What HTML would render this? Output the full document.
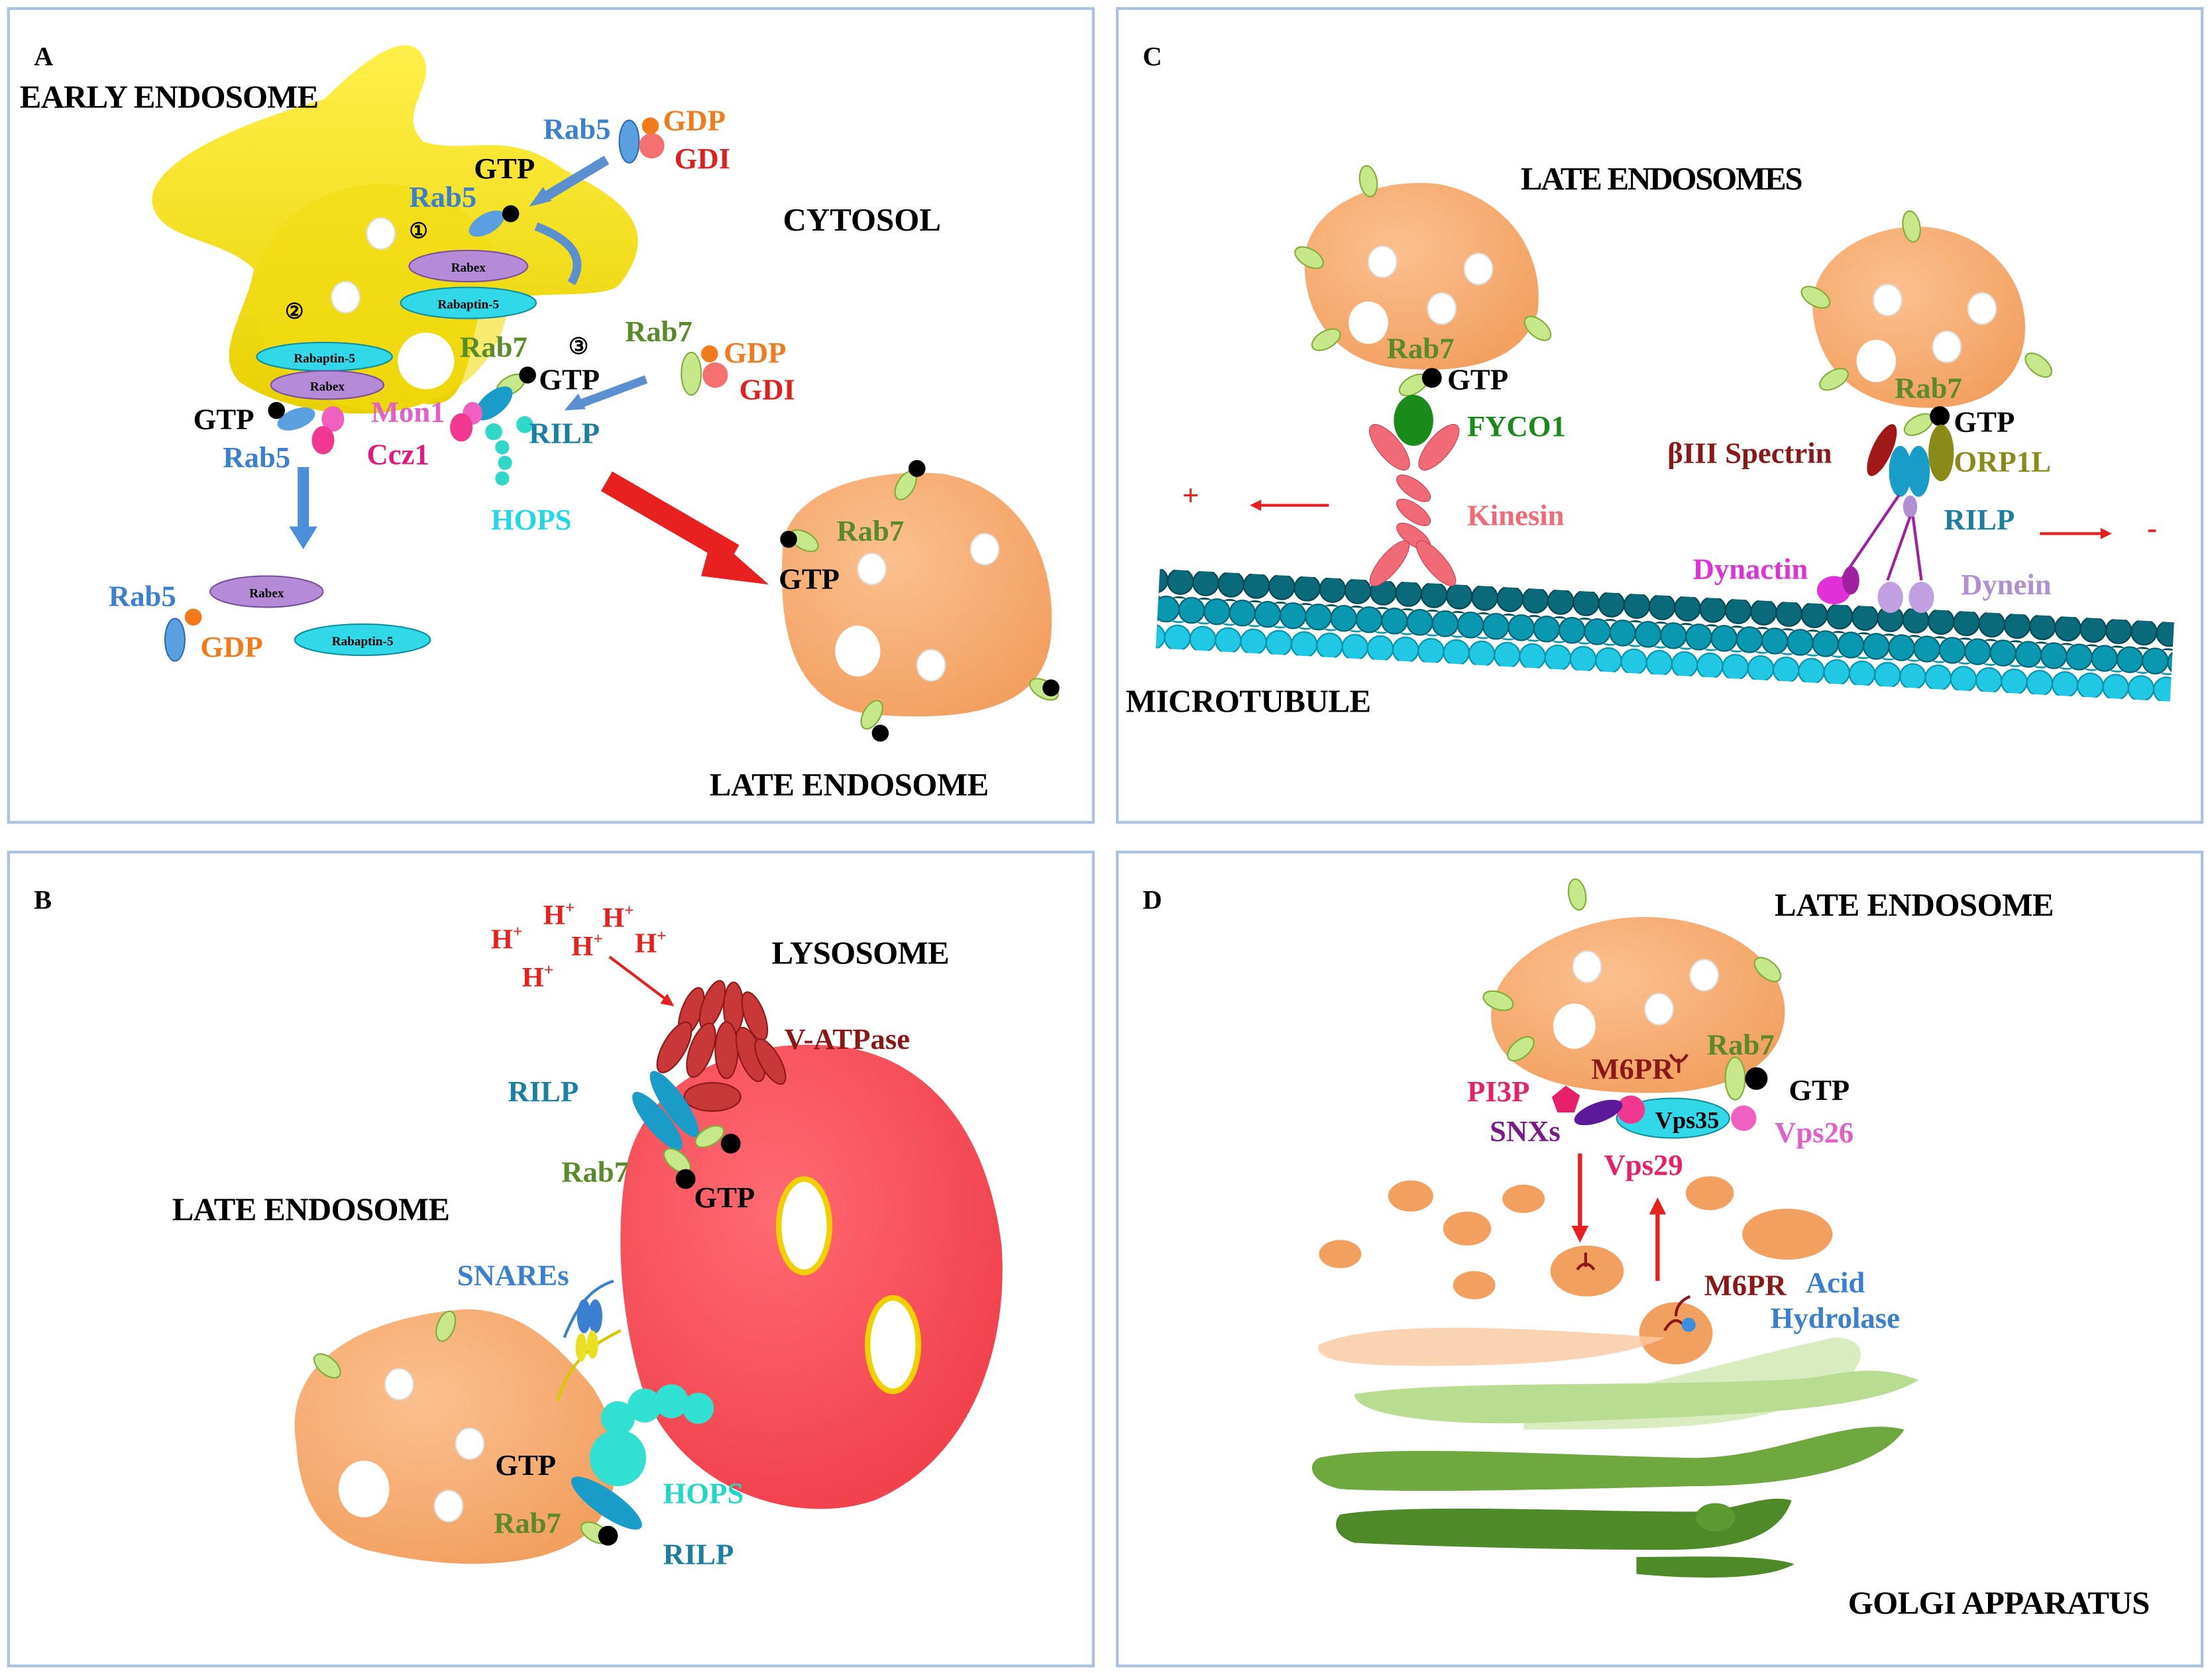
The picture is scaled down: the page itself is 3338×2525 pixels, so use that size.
<!DOCTYPE html>
<html><head><meta charset="utf-8"><style>
html,body{margin:0;padding:0;background:#fff}
svg{display:block}
text{font-family:"Liberation Serif",serif;font-weight:bold}
</style></head><body>
<svg width="3338" height="2525" viewBox="0 0 1568 1182" preserveAspectRatio="none" font-size="21" xmlns="http://www.w3.org/2000/svg">
<defs>
<radialGradient id="org" cx="40%" cy="35%" r="70%"><stop offset="0" stop-color="#fbc08f"/><stop offset="1" stop-color="#f2a060"/></radialGradient>
<radialGradient id="red" cx="40%" cy="35%" r="70%"><stop offset="0" stop-color="#ff6a72"/><stop offset="1" stop-color="#f0404c"/></radialGradient>
<linearGradient id="yel" x1="0" y1="0" x2="0" y2="1"><stop offset="0" stop-color="#fff04a"/><stop offset="1" stop-color="#e8d000"/></linearGradient>
<pattern id="b1" patternUnits="userSpaceOnUse" width="18" height="20"><circle cx="9" cy="10" r="9" fill="#0a6a7a" stroke="#054550"/></pattern>
<pattern id="b2" patternUnits="userSpaceOnUse" width="18" height="20" x="9"><circle cx="9" cy="10" r="9" fill="#0a98b0" stroke="#066070"/></pattern>
<pattern id="b3" patternUnits="userSpaceOnUse" width="18" height="20"><circle cx="9" cy="10" r="9" fill="#20c8e4" stroke="#0890a8"/></pattern>
<g id="gv"><ellipse rx="11" ry="6" fill="#c6e88a" stroke="#7fae3a" stroke-width="1"/></g>
<g id="wv"><ellipse rx="10" ry="11" fill="#fff" stroke="#ddd"/></g>
</defs>
<rect width="1568" height="1182" fill="#fff"/>
<g fill="none" stroke="#a9c2de" stroke-width="2">
<rect x="6" y="6" width="769" height="575"/><rect x="792" y="6" width="769" height="575"/>
<rect x="6" y="602" width="769" height="575"/><rect x="792" y="602" width="769" height="575"/>
</g>

<!-- PANEL A -->
<path d="M110,150 C95,120 160,90 230,70 C260,40 290,20 300,40 C310,60 280,80 300,100 C330,110 360,90 400,120 C440,140 470,160 440,200 C430,215 360,200 340,220 C330,260 330,290 300,285 C260,300 200,290 170,270 C150,250 175,220 180,190 C160,170 120,170 110,150 Z" fill="url(#yel)"/>
<ellipse cx="270" cy="210" rx="90" ry="80" fill="#f2dc10" opacity="0.6"/>
<text x="24" y="46" font-size="19">A</text>
<text x="14" y="76" font-size="23" textLength="212">EARLY ENDOSOME</text>
<text x="555" y="163" font-size="23">CYTOSOL</text>
<use href="#wv" x="270" y="165"/><use href="#wv" x="245" y="210"/>
<ellipse cx="302" cy="255" rx="20" ry="20" fill="#fff"/>
<text x="290" y="168" font-size="15">①</text><text x="202" y="225" font-size="15">②</text><text x="403" y="250" font-size="16">③</text>
<ellipse cx="332" cy="188" rx="42" ry="11" fill="#b58ad6" stroke="#7a50a0"/><text x="332" y="192" font-size="9" text-anchor="middle">Rabex</text>
<ellipse cx="332" cy="214" rx="48" ry="11" fill="#30d8e8" stroke="#1090a0"/><text x="332" y="218" font-size="9" text-anchor="middle">Rabaptin-5</text>
<ellipse cx="230" cy="252" rx="48" ry="10" fill="#30d8e8" stroke="#1090a0"/><text x="230" y="256" font-size="9" text-anchor="middle">Rabaptin-5</text>
<ellipse cx="232" cy="272" rx="40" ry="10" fill="#b58ad6" stroke="#7a50a0"/><text x="232" y="276" font-size="9" text-anchor="middle">Rabex</text>
<text x="385" y="98" fill="#3a7fd0">Rab5</text>
<ellipse cx="446" cy="100" rx="7" ry="15" fill="#5aa0e0" stroke="#2d6cb0"/>
<circle cx="462" cy="103" r="9" fill="#f57070"/><circle cx="461" cy="89" r="6" fill="#f27a1a"/>
<text x="470" y="92" fill="#f27a1a">GDP</text><text x="478" y="119" fill="#e02020">GDI</text>
<text x="336" y="126">GTP</text>
<text x="290" y="146" fill="#3a7fd0">Rab5</text>
<ellipse cx="345" cy="158" rx="14" ry="7" fill="#5aa0e0" transform="rotate(-30 345 158)"/><circle cx="362" cy="151" r="6" fill="#000"/>
<path d="M430,113 L385,140" stroke="#5a8fd0" stroke-width="7"/><path d="M375,146 l10,-14 l6,10z" fill="#5a8fd0"/>
<path d="M380,160 Q420,175 405,200" stroke="#5a8fd0" stroke-width="6" fill="none"/>
<text x="326" y="252" fill="#5a8a2a">Rab7</text>
<text x="443" y="241" fill="#5a8a2a">Rab7</text>
<ellipse cx="490" cy="264" rx="7" ry="15" fill="#c6e88a" stroke="#7fae3a"/>
<circle cx="507" cy="265" r="9" fill="#f57070"/><circle cx="503" cy="250" r="6" fill="#f27a1a"/>
<text x="513" y="256" fill="#f27a1a">GDP</text><text x="524" y="282" fill="#e02020">GDI</text>
<text x="382" y="275">GTP</text>
<use href="#gv" transform="translate(362 272) rotate(-30)"/><circle cx="374" cy="265" r="6" fill="#000"/>
<path d="M458,268 L412,285" stroke="#5a8fd0" stroke-width="6"/><path d="M400,290 l10,-12 l5,11z" fill="#5a8fd0"/>
<ellipse cx="350" cy="285" rx="16" ry="8" fill="#1a9cc8" transform="rotate(-40 350 285)"/>
<ellipse cx="335" cy="292" rx="7" ry="8" fill="#f060c0"/><ellipse cx="327" cy="302" rx="8" ry="10" fill="#f03890"/>
<g fill="#30d8c8"><circle cx="350" cy="305" r="6"/><circle cx="356" cy="316" r="5"/><circle cx="358" cy="327" r="5"/><circle cx="356" cy="338" r="5"/><circle cx="372" cy="300" r="6"/></g>
<text x="263" y="298" fill="#e060c8">Mon1</text>
<text x="375" y="313" fill="#1a7fa0">RILP</text>
<text x="260" y="328" fill="#e01880">Ccz1</text>
<text x="348" y="374" fill="#20d8e8">HOPS</text>
<text x="137" y="303">GTP</text>
<ellipse cx="210" cy="296" rx="14" ry="7" fill="#5aa0e0" transform="rotate(-20 210 296)"/><circle cx="196" cy="290" r="6" fill="#000"/>
<ellipse cx="236" cy="296" rx="8" ry="9" fill="#f060c0"/><ellipse cx="229" cy="311" rx="8" ry="10" fill="#f03890"/>
<text x="158" y="330" fill="#3a7fd0">Rab5</text>
<rect x="211" y="330" width="8" height="44" fill="#4a8fd8"/><path d="M205,372 h20 l-10,16z" fill="#4a8fd8"/>
<ellipse cx="189" cy="418" rx="40" ry="11" fill="#b58ad6" stroke="#7a50a0"/><text x="189" y="422" font-size="9" text-anchor="middle">Rabex</text>
<text x="77" y="428" fill="#3a7fd0">Rab5</text>
<ellipse cx="124" cy="452" rx="7" ry="15" fill="#5aa0e0" stroke="#2d6cb0"/><circle cx="137" cy="436" r="6" fill="#f27a1a"/>
<text x="142" y="464" fill="#f27a1a">GDP</text>
<ellipse cx="257" cy="452" rx="48" ry="11" fill="#30d8e8" stroke="#1090a0"/><text x="257" y="456" font-size="9" text-anchor="middle">Rabaptin-5</text>
<path d="M430,340 L520,392" stroke="#e82020" stroke-width="16"/><path d="M505,378 l40,35 l-48,-6z" fill="#e82020"/>
<path d="M555,385 C560,345 620,330 670,335 C720,345 750,390 745,450 C740,500 690,510 620,505 C570,500 550,460 555,385 Z" fill="url(#org)"/>
<use href="#wv" x="618" y="402"/><use href="#wv" x="698" y="388"/><ellipse cx="608" cy="460" rx="16" ry="18" fill="#fff"/><use href="#wv" x="660" y="470"/>
<use href="#gv" transform="translate(570 382) rotate(30)"/><circle cx="559" cy="381" r="6" fill="#000"/>
<use href="#gv" transform="translate(642 343) rotate(-60)"/><circle cx="650" cy="331" r="6" fill="#000"/>
<use href="#gv" transform="translate(740 487) rotate(30)"/><circle cx="745" cy="486" r="6" fill="#000"/>
<use href="#gv" transform="translate(618 505) rotate(-60)"/><circle cx="624" cy="518" r="6" fill="#000"/>
<text x="593" y="382" fill="#5a8a2a">Rab7</text><text x="552" y="416">GTP</text>
<text x="503" y="562" font-size="23" textLength="198">LATE ENDOSOME</text>

<!-- PANEL C -->
<text x="810" y="46" font-size="19">C</text>
<text x="1078" y="134" font-size="23" textLength="200">LATE ENDOSOMES</text>
<g transform="rotate(3 822 405)">
<rect x="822" y="402" width="720" height="20" fill="url(#b1)"/>
<rect x="822" y="420" width="720" height="20" fill="url(#b2)"/>
<rect x="822" y="438" width="720" height="20" fill="url(#b3)"/>
</g>
<path d="M925,180 C930,145 975,125 1020,130 C1070,140 1095,180 1090,220 C1080,255 1040,265 990,260 C945,255 922,220 925,180 Z" fill="url(#org)"/>
<use href="#wv" x="980" y="185"/><use href="#wv" x="1048" y="190"/><use href="#wv" x="1022" y="218"/><ellipse cx="970" cy="228" rx="14" ry="15" fill="#fff"/>
<use href="#gv" transform="translate(970 128) rotate(80)"/><use href="#gv" transform="translate(928 182) rotate(30)"/><use href="#gv" transform="translate(940 240) rotate(-30)"/><use href="#gv" transform="translate(1090 232) rotate(40)"/>
<text x="983" y="253" fill="#5a8a2a">Rab7</text>
<use href="#gv" transform="translate(1002 272) rotate(-30)"/><circle cx="1015" cy="267" r="7" fill="#000"/>
<text x="1026" y="275">GTP</text>
<ellipse cx="1002" cy="297" rx="14" ry="18" fill="#1a8a1a"/>
<text x="1040" y="308" fill="#1a8a1a">FYCO1</text>
<g fill="#f06a78" stroke="#c04050" stroke-width="0.5">
<ellipse cx="985" cy="316" rx="8" ry="20" transform="rotate(-40 985 316)"/><ellipse cx="1020" cy="316" rx="8" ry="20" transform="rotate(40 1020 316)"/>
<ellipse cx="1002" cy="345" rx="6" ry="14" transform="rotate(-55 1002 345)"/><ellipse cx="1002" cy="362" rx="6" ry="14" transform="rotate(-55 1002 362)"/><ellipse cx="1002" cy="379" rx="6" ry="14" transform="rotate(-55 1002 379)"/>
<ellipse cx="985" cy="398" rx="7" ry="20" transform="rotate(40 985 398)"/><ellipse cx="1018" cy="398" rx="7" ry="20" transform="rotate(-40 1018 398)"/></g>
<text x="1040" y="371" fill="#f06a78">Kinesin</text>
<text x="838" y="357" fill="#e82020">+</text>
<path d="M942,357 H890" stroke="#e82020" stroke-width="2"/><path d="M886,357 l8,-4 v8z" fill="#e82020"/>
<path d="M1285,220 C1282,185 1320,160 1360,160 C1410,162 1440,200 1435,240 C1430,275 1400,290 1360,288 C1310,285 1288,255 1285,220 Z" fill="url(#org)"/>
<use href="#wv" x="1338" y="212"/><use href="#wv" x="1405" y="218"/><use href="#wv" x="1380" y="245"/><ellipse cx="1330" cy="255" rx="14" ry="15" fill="#fff"/>
<use href="#gv" transform="translate(1355 160) rotate(80)"/><use href="#gv" transform="translate(1287 210) rotate(30)"/><use href="#gv" transform="translate(1300 268) rotate(-30)"/><use href="#gv" transform="translate(1445 258) rotate(40)"/>
<text x="1343" y="281" fill="#5a8a2a">Rab7</text>
<use href="#gv" transform="translate(1360 300) rotate(-30)"/><circle cx="1375" cy="294" r="7" fill="#000"/>
<text x="1385" y="305">GTP</text>
<ellipse cx="1334" cy="318" rx="7" ry="20" fill="#a01818" transform="rotate(25 1334 318)"/>
<ellipse cx="1376" cy="320" rx="9" ry="20" fill="#8a8a18"/>
<ellipse cx="1347" cy="333" rx="8" ry="18" fill="#1a9cc8"/><ellipse cx="1360" cy="333" rx="8" ry="18" fill="#1a9cc8"/>
<text x="1182" y="327" fill="#8a1818">βIII Spectrin</text>
<text x="1385" y="333" fill="#8a8a18">ORP1L</text>
<text x="1378" y="374" fill="#1a7fa0">RILP</text>
<ellipse cx="1354" cy="358" rx="5" ry="8" fill="#b090d0"/>
<path d="M1346,350 L1305,410 M1354,365 L1338,410 M1356,365 L1362,410" stroke="#a020a0" stroke-width="2"/>
<ellipse cx="1300" cy="417" rx="12" ry="10" fill="#e030d8"/><ellipse cx="1312" cy="410" rx="6" ry="10" fill="#a020a0"/>
<ellipse cx="1340" cy="422" rx="9" ry="11" fill="#c0a0e0"/><ellipse cx="1362" cy="422" rx="9" ry="11" fill="#c0a0e0"/>
<text x="1200" y="409" fill="#e030d8">Dynactin</text>
<text x="1390" y="420" fill="#b090d0">Dynein</text>
<path d="M1446,377 H1490" stroke="#e82020" stroke-width="2"/><path d="M1497,377 l-8,-4 v8z" fill="#e82020"/>
<text x="1522" y="380" fill="#e82020">-</text>
<text x="798" y="503" font-size="23" textLength="174">MICROTUBULE</text>

<!-- PANEL B -->
<text x="24" y="642" font-size="19">B</text>
<text x="547" y="681" font-size="23" textLength="126">LYSOSOME</text>
<g fill="#e82020" font-size="20"><text x="348" y="670">H<tspan font-size="12" dy="-8">+</tspan></text><text x="385" y="653">H<tspan font-size="12" dy="-8">+</tspan></text><text x="427" y="655">H<tspan font-size="12" dy="-8">+</tspan></text><text x="405" y="675">H<tspan font-size="12" dy="-8">+</tspan></text><text x="450" y="673">H<tspan font-size="12" dy="-8">+</tspan></text><text x="370" y="697">H<tspan font-size="12" dy="-8">+</tspan></text></g>
<path d="M432,676 L472,706" stroke="#e82020" stroke-width="2"/><path d="M478,711 l-10,-2 l5,-7z" fill="#e82020"/>
<path d="M445,820 C460,760 530,730 600,740 C660,750 700,800 710,880 C715,950 690,1030 620,1060 C560,1080 480,1050 455,980 C440,930 435,870 445,820 Z" fill="url(#red)"/>
<ellipse cx="570" cy="866" rx="18" ry="33" fill="#fff" stroke="#f0d000" stroke-width="4"/>
<ellipse cx="633" cy="950" rx="18" ry="33" fill="#fff" stroke="#f0d000" stroke-width="4"/>
<g fill="#c83838" stroke="#901818" stroke-width="1">
<ellipse cx="490" cy="715" rx="7" ry="18" transform="rotate(20 490 715)"/><ellipse cx="505" cy="710" rx="7" ry="18" transform="rotate(20 505 710)"/><ellipse cx="520" cy="712" rx="7" ry="18"/><ellipse cx="535" cy="718" rx="7" ry="18" transform="rotate(-20 535 718)"/>
<ellipse cx="478" cy="740" rx="8" ry="20" transform="rotate(30 478 740)"/><ellipse cx="497" cy="742" rx="8" ry="20" transform="rotate(20 497 742)"/><ellipse cx="515" cy="742" rx="8" ry="20"/><ellipse cx="532" cy="745" rx="8" ry="20" transform="rotate(-20 532 745)"/><ellipse cx="546" cy="750" rx="7" ry="18" transform="rotate(-30 546 750)"/>
<ellipse cx="505" cy="775" rx="20" ry="10"/></g>
<text x="556" y="741" fill="#8a1818">V-ATPase</text>
<text x="360" y="778" fill="#1a7fa0">RILP</text>
<ellipse cx="478" cy="780" rx="8" ry="28" fill="#1a9cc8" transform="rotate(-35 478 780)"/>
<ellipse cx="466" cy="792" rx="8" ry="26" fill="#1a9cc8" transform="rotate(-40 466 792)"/>
<use href="#gv" transform="translate(503 803) rotate(-30)"/><circle cx="518" cy="808" r="7" fill="#000"/>
<use href="#gv" transform="translate(480 820) rotate(40)"/><circle cx="486" cy="833" r="7" fill="#000"/>
<text x="398" y="835" fill="#5a8a2a">Rab7</text>
<text x="492" y="853">GTP</text>
<text x="122" y="862" font-size="23" textLength="197">LATE ENDOSOME</text>
<path d="M210,1020 C200,960 260,930 330,925 C370,925 395,950 420,980 C440,1010 445,1050 420,1080 C390,1110 320,1110 260,1095 C225,1085 212,1055 210,1020 Z" fill="url(#org)"/>
<use href="#wv" x="283" y="978"/><ellipse cx="258" cy="1052" rx="18" ry="20" fill="#fff"/><use href="#wv" x="333" y="1020"/><use href="#wv" x="318" y="1064"/>
<use href="#gv" transform="translate(232 965) rotate(40)"/><use href="#gv" transform="translate(316 937) rotate(-70)"/>
<text x="324" y="908" fill="#3a7fd0">SNAREs</text>
<path d="M400,945 C410,920 420,910 435,905" stroke="#3a7fd0" stroke-width="2" fill="none"/>
<path d="M395,990 C405,960 420,950 440,940" stroke="#d8c800" stroke-width="2" fill="none"/>
<ellipse cx="414" cy="930" rx="5" ry="12" fill="#3a7fd0"/><ellipse cx="422" cy="930" rx="5" ry="12" fill="#3a7fd0"/>
<ellipse cx="412" cy="952" rx="4" ry="10" fill="#e8e020"/><ellipse cx="420" cy="950" rx="4" ry="10" fill="#e8e020"/>
<g fill="#30e0d0"><circle cx="438" cy="1002" r="12"/><circle cx="457" cy="993" r="12"/><circle cx="476" cy="990" r="12"/><circle cx="495" cy="995" r="11"/><ellipse cx="438" cy="1030" rx="20" ry="20"/></g>
<text x="351" y="1042">GTP</text>
<text x="470" y="1062" fill="#20d8c8">HOPS</text>
<ellipse cx="430" cy="1062" rx="9" ry="30" fill="#1a9cc8" transform="rotate(-55 430 1062)"/>
<use href="#gv" transform="translate(422 1083) rotate(30)"/><circle cx="431" cy="1085" r="7" fill="#000"/>
<text x="350" y="1083" fill="#5a8a2a">Rab7</text>
<text x="470" y="1105" fill="#1a7fa0">RILP</text>

<!-- PANEL D -->
<text x="810" y="642" font-size="19">D</text>
<text x="1258" y="647" font-size="23" textLength="198">LATE ENDOSOME</text>
<path d="M1057,720 C1055,680 1110,650 1160,648 C1210,646 1260,670 1265,710 C1268,750 1230,770 1180,772 C1110,774 1060,760 1057,720 Z" fill="url(#org)"/>
<use href="#wv" x="1125" y="683"/><use href="#wv" x="1208" y="689"/><use href="#wv" x="1176" y="713"/><ellipse cx="1116" cy="725" rx="15" ry="16" fill="#fff"/>
<use href="#gv" transform="translate(1118 632) rotate(80)"/><use href="#gv" transform="translate(1062 707) rotate(20)"/><use href="#gv" transform="translate(1078 741) rotate(-40)"/><use href="#gv" transform="translate(1253 685) rotate(40)"/>
<text x="1210" y="745" fill="#5a8a2a">Rab7</text>
<text x="1128" y="762" fill="#8a1818">M6PR</text>
<path d="M1190,748 v10 M1184,745 q6,10 12,0" stroke="#8a1818" stroke-width="2" fill="none"/>
<ellipse cx="1230" cy="762" rx="7" ry="15" fill="#c6e88a" stroke="#7fae3a"/><circle cx="1245" cy="762" r="8" fill="#000"/>
<text x="1268" y="777">GTP</text>
<ellipse cx="1186" cy="790" rx="40" ry="14" fill="#30d8e8" stroke="#1090a0"/><text x="1196" y="797" font-size="17" text-anchor="middle">Vps35</text>
<circle cx="1156" cy="784" r="10" fill="#f03890"/><circle cx="1236" cy="790" r="9" fill="#f060c0"/>
<ellipse cx="1133" cy="786" rx="18" ry="7" fill="#5a1a9a" transform="rotate(-20 1133 786)"/>
<path d="M1100,775 l10,-8 l10,7 l-4,12 h-12z" fill="#e8206a"/>
<text x="1040" y="778" fill="#e8206a">PI3P</text>
<text x="1056" y="806" fill="#7a1a8a">SNXs</text>
<text x="1137" y="830" fill="#e8206a">Vps29</text>
<text x="1258" y="807" fill="#e060c8">Vps26</text>
<path d="M1120,815 V870" stroke="#e82020" stroke-width="3"/><path d="M1114,866 h12 l-6,12z" fill="#e82020"/>
<path d="M1175,905 V855" stroke="#e82020" stroke-width="3"/><path d="M1169,858 h12 l-6,-12z" fill="#e82020"/>
<g fill="#f2a060"><ellipse cx="1000" cy="845" rx="16" ry="11"/><ellipse cx="1040" cy="868" rx="17" ry="12"/><ellipse cx="1080" cy="847" rx="15" ry="10"/><ellipse cx="950" cy="886" rx="15" ry="10"/><ellipse cx="1045" cy="908" rx="15" ry="10"/><ellipse cx="1212" cy="843" rx="17" ry="12"/><ellipse cx="1267" cy="872" rx="32" ry="18"/><ellipse cx="1125" cy="898" rx="26" ry="18"/><ellipse cx="1188" cy="942" rx="26" ry="22"/></g>
<path d="M1124,885 v10 M1118,897 q6,-8 12,0" stroke="#8a1818" stroke-width="2" fill="none"/>
<path d="M1188,930 q0,-10 10,-14 M1180,940 q8,-14 16,0" stroke="#8a1818" stroke-width="2" fill="none"/>
<circle cx="1197" cy="936" r="5" fill="#3a8fe0"/>
<text x="1208" y="915" fill="#8a1818">M6PR</text>
<text x="1280" y="913" fill="#3a7fd0">Acid</text>
<text x="1255" y="938" fill="#3a7fd0">Hydrolase</text>
<path d="M935,950 C980,930 1100,940 1180,945 C1150,960 1090,965 1010,965 C960,965 930,962 935,950 Z" fill="#f9c8a0" opacity="0.8"/>
<path d="M1080,995 C1150,985 1230,960 1300,945 C1330,945 1320,970 1300,980 C1250,1010 1180,1010 1080,1010 Z" fill="#d8ecc0"/>
<path d="M960,985 C1020,975 1150,980 1260,975 C1300,975 1320,960 1360,975 C1320,1000 1200,1000 1100,1005 C1020,1008 960,1000 960,985 Z" fill="#b8dc90"/>
<path d="M935,1030 C980,1020 1100,1028 1200,1030 C1260,1030 1310,1000 1350,1010 C1330,1040 1260,1050 1200,1050 C1120,1052 1000,1055 950,1052 C930,1048 925,1035 935,1030 Z" fill="#70a840"/>
<path d="M950,1070 C1000,1062 1120,1068 1200,1068 C1230,1068 1250,1055 1270,1060 C1260,1090 1220,1095 1180,1095 C1100,1095 1000,1092 960,1090 C945,1085 945,1075 950,1070 Z" fill="#4e8a28"/>
<ellipse cx="1216" cy="1072" rx="14" ry="10" fill="#5a9a30"/>
<path d="M1160,1100 C1200,1100 1250,1098 1272,1105 C1250,1118 1190,1115 1160,1112 Z" fill="#4e8a28"/>
<text x="1310" y="1140" font-size="23" textLength="214">GOLGI APPARATUS</text>
</svg>
</body></html>
